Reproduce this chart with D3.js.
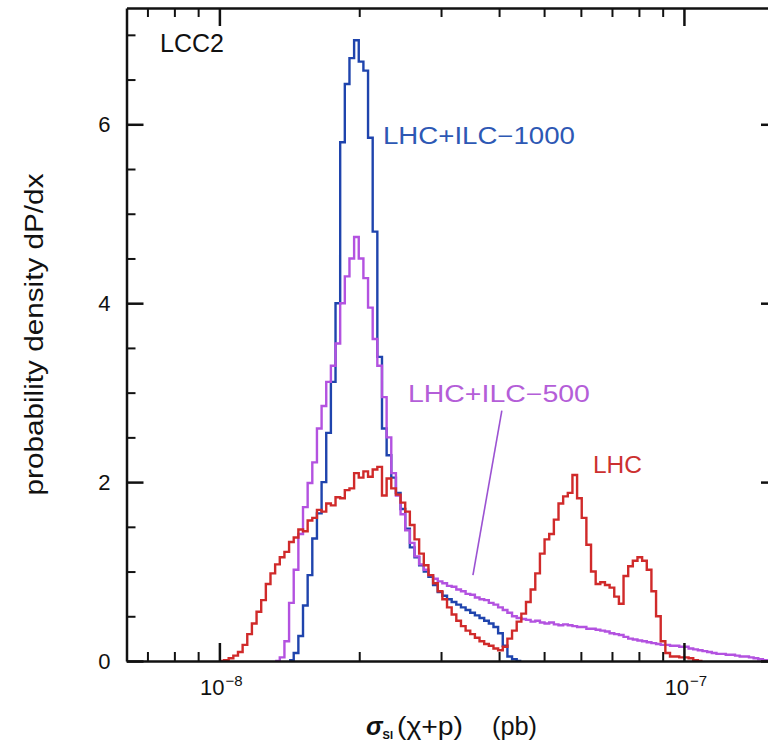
<!DOCTYPE html>
<html>
<head>
<meta charset="utf-8">
<script src="https://cdn.jsdelivr.net/npm/d3@7"></script>
<style>
  body { margin: 0; background: #fff; }
  svg { display: block; font-family: "Liberation Sans", Arial, Helvetica, sans-serif; }
  .frame path, .frame line { stroke: #111; stroke-width: 2.5; }
  .minor line { stroke: #111; stroke-width: 2; }
</style>
</head>
<body>
<svg id="chart" width="768" height="749"></svg>
<script>
//-- histogram bins: width 0.01 in log10(sigma), first edge at 1e-8 --//
var binLog0 = -8, binStep = 0.01;

var lhcStart = 0;
var lhc = [0, 0.01, 0.03, 0.06, 0.1, 0.18, 0.3, 0.42, 0.55, 0.68,
  0.86, 0.98, 1.08, 1.16, 1.22, 1.33, 1.38, 1.47, 1.45, 1.57,
  1.6, 1.69, 1.67, 1.76, 1.74, 1.83, 1.82, 1.91, 1.93, 2.1,
  2.05, 2.12, 2.06, 2.14, 2.17, 1.85, 2.04, 1.93, 1.86, 1.77,
  1.67, 1.52, 1.36, 1.2, 1.07, 0.96, 0.87, 0.78, 0.69, 0.6,
  0.52, 0.45, 0.39, 0.34, 0.3, 0.26, 0.22, 0.19, 0.17, 0.14,
  0.12, 0.16, 0.25, 0.34, 0.44, 0.53, 0.66, 0.8, 0.98, 1.2,
  1.36, 1.42, 1.58, 1.76, 1.84, 1.88, 2.08, 1.82, 1.6, 1.3,
  1.0, 0.86, 0.88, 0.85, 0.82, 0.72, 0.64, 0.95, 1.06, 1.12,
  1.16, 1.12, 1.02, 0.78, 0.5, 0.22, 0.09, 0.05, 0.05, 0.04,
  0.04, 0.03, 0.01, 0];

var ilc500Start = 12;
var ilc500 = [0, 0.04, 0.22, 0.65, 1.02, 1.42, 1.72, 1.99, 2.22, 2.6,
  2.85, 3.12, 3.3, 3.55, 4.0, 4.3, 4.5, 4.74, 4.5, 4.28,
  3.95, 3.6, 3.3, 2.95, 2.5, 2.1, 1.85, 1.64, 1.46, 1.32,
  1.17, 1.08, 1.02, 0.96, 0.92, 0.89, 0.87, 0.84, 0.83, 0.8,
  0.78, 0.75, 0.74, 0.71, 0.69, 0.68, 0.65, 0.63, 0.6, 0.57,
  0.54, 0.5, 0.48, 0.47, 0.46, 0.44, 0.45, 0.43, 0.42, 0.43,
  0.41, 0.4, 0.41, 0.4, 0.39, 0.38, 0.38, 0.36, 0.36, 0.35,
  0.34, 0.33, 0.31, 0.3, 0.29, 0.27, 0.25, 0.24, 0.23, 0.22,
  0.21, 0.2, 0.19, 0.18, 0.18, 0.17, 0.17, 0.16, 0.16, 0.14,
  0.13, 0.12, 0.11, 0.1, 0.09, 0.08, 0.08, 0.07, 0.07, 0.06,
  0.05, 0.05, 0.04, 0.03, 0.02, 0.01, 0.01];

var ilc1000Start = 15;
var ilc1000 = [0.01, 0.09, 0.28, 0.62, 0.96, 1.37, 1.65, 2.0, 2.55, 3.12,
  4.0, 5.8, 6.45, 6.74, 6.94, 6.7, 6.6, 5.85, 4.8, 3.4,
  2.6, 2.3, 2.05, 1.88, 1.7, 1.48, 1.27, 1.16, 1.07, 1.0,
  0.94, 0.85, 0.77, 0.73, 0.69, 0.66, 0.63, 0.6, 0.57, 0.54,
  0.51, 0.48, 0.45, 0.42, 0.38, 0.31, 0.17, 0.05, 0.02, 0];

var yMajor = [0, 2, 4, 6];
var yMinor = [0.5, 1, 1.5, 2.5, 3, 3.5, 4.5, 5, 5.5, 6.5, 7];
var xMajor = [1e-8, 1e-7];
var xMajorExp = ["\u22128", "\u22127"];
var xMinor = [7e-9, 8e-9, 9e-9, 2e-8, 3e-8, 4e-8, 5e-8, 6e-8, 7e-8, 8e-8, 9e-8];

var colors = {lhc: "#d02a2a", ilc500: "#b352e0", ilc1000: "#1f44ad"};
//-- data --//

var svg = d3.select("#chart"),
    plotL = 126.5, plotR = 778, plotT = 8, plotB = 661;

var x = d3.scaleLog().domain([6.31e-9, 1.594e-7]).range([plotL, plotR]);
var y = d3.scaleLinear().domain([0, 7.3]).range([plotB, plotT]);

svg.append("clipPath").attr("id", "plot")
  .append("rect").attr("x", plotL).attr("y", plotT)
  .attr("width", plotR - plotL).attr("height", plotB - plotT);

//-- histograms --//
function steps(start, vals) {
  var pts = vals.map((v, i) => [Math.pow(10, binLog0 + (start + i) * binStep), v]);
  pts.push([Math.pow(10, binLog0 + (start + vals.length) * binStep), vals[vals.length - 1]]);
  return pts;
}

var line = d3.line()
  .x(d => x(d[0]))
  .y(d => y(d[1]))
  .curve(d3.curveStepAfter);

var series = [
  {key: "ilc1000", start: ilc1000Start, vals: ilc1000},
  {key: "ilc500", start: ilc500Start, vals: ilc500},
  {key: "lhc", start: lhcStart, vals: lhc}
];

svg.append("g").attr("clip-path", "url(#plot)")
  .selectAll("path")
  .data(series)
  .enter().append("path")
    .attr("d", d => line(steps(d.start, d.vals)))
    .attr("fill", "none")
    .attr("stroke", d => colors[d.key])
    .attr("stroke-width", 2.4);

//-- axes: ticks point inward on all four sides --//
function noLabels(g) { g.selectAll("text").remove(); }

svg.append("g").attr("class", "frame")
  .attr("transform", `translate(0,${plotB})`)
  .call(d3.axisBottom(x).tickValues(xMajor).tickSizeInner(-18).tickSizeOuter(0))
  .call(noLabels);
svg.append("g").attr("class", "frame")
  .attr("transform", `translate(0,${plotT})`)
  .call(d3.axisTop(x).tickValues(xMajor).tickSizeInner(-18).tickSizeOuter(0))
  .call(noLabels);
svg.append("g").attr("class", "minor")
  .attr("transform", `translate(0,${plotB})`)
  .call(d3.axisBottom(x).tickValues(xMinor).tickSizeInner(-9).tickSizeOuter(0))
  .call(noLabels).select(".domain").remove();
svg.append("g").attr("class", "minor")
  .attr("transform", `translate(0,${plotT})`)
  .call(d3.axisTop(x).tickValues(xMinor).tickSizeInner(-9).tickSizeOuter(0))
  .call(noLabels).select(".domain").remove();

svg.append("g").attr("class", "frame")
  .attr("transform", `translate(${plotL},0)`)
  .call(d3.axisLeft(y).tickValues(yMajor).tickSizeInner(-17).tickSizeOuter(0))
  .call(noLabels);
svg.append("g").attr("class", "frame")
  .attr("transform", `translate(${plotR},0)`)
  .call(d3.axisRight(y).tickValues(yMajor).tickSizeInner(-17).tickSizeOuter(0))
  .call(noLabels);
svg.append("g").attr("class", "minor")
  .attr("transform", `translate(${plotL},0)`)
  .call(d3.axisLeft(y).tickValues(yMinor).tickSizeInner(-9).tickSizeOuter(0))
  .call(noLabels).select(".domain").remove();
svg.append("g").attr("class", "minor")
  .attr("transform", `translate(${plotR},0)`)
  .call(d3.axisRight(y).tickValues(yMinor).tickSizeInner(-9).tickSizeOuter(0))
  .call(noLabels).select(".domain").remove();

//-- tick labels --//
svg.append("g").selectAll("text")
  .data(yMajor)
  .enter().append("text")
    .attr("x", plotL - 16)
    .attr("y", d => y(d) + 8)
    .attr("text-anchor", "end")
    .style("font-size", "22px")
    .attr("fill", "#111")
    .text(d => d);

var xl = svg.append("g").selectAll("text")
  .data(xMajor)
  .enter().append("text")
    .attr("x", d => x(d) + 2)
    .attr("y", plotB + 34)
    .attr("text-anchor", "middle")
    .attr("fill", "#111");
xl.append("tspan").style("font-size", "22px").text("10");
xl.append("tspan").style("font-size", "15px").attr("dx", 1).attr("dy", -9).text((d, i) => xMajorExp[i]);

//-- axis titles --//
svg.append("text")
  .attr("transform", `translate(43,${(plotT + plotB) / 2}) rotate(-90)`)
  .attr("text-anchor", "middle")
  .style("font-size", "25px")
  .attr("textLength", 322).attr("lengthAdjust", "spacingAndGlyphs")
  .attr("fill", "#111")
  .text("probability density dP/dx");

var xt = svg.append("text")
  .attr("x", 366).attr("y", 735)
  .style("font-size", "25px")
  .attr("fill", "#111");
xt.append("tspan").style("font-style", "italic").style("font-weight", "bold").text("\u03c3");
xt.append("tspan").style("font-size", "11px").style("font-weight", "bold").attr("dy", 4).text("SI");
xt.append("tspan").attr("dy", -4).attr("x", 397)
  .attr("textLength", 66).attr("lengthAdjust", "spacingAndGlyphs").text("(\u03c7+p)");
xt.append("tspan").attr("x", 492)
  .attr("textLength", 45).attr("lengthAdjust", "spacingAndGlyphs").text("(pb)");

//-- annotations --//
svg.append("text")
  .attr("x", 160).attr("y", 52)
  .style("font-size", "25px").attr("fill", "#111")
  .text("LCC2");

svg.append("text")
  .attr("x", x(2.25e-8)).attr("y", y(5.78))
  .style("font-size", "23px").attr("fill", "#2d58b4")
  .attr("textLength", 192).attr("lengthAdjust", "spacingAndGlyphs")
  .text("LHC+ILC\u22121000");

svg.append("text")
  .attr("x", x(2.546e-8)).attr("y", y(2.89))
  .style("font-size", "23px").attr("fill", "#b45ed8")
  .attr("textLength", 182).attr("lengthAdjust", "spacingAndGlyphs")
  .text("LHC+ILC\u2212500");

svg.append("line")
  .attr("x1", x(4.055e-8)).attr("y1", y(2.8))
  .attr("x2", x(3.514e-8)).attr("y2", y(0.96))
  .attr("stroke", "#9b52d2").attr("stroke-width", 1.6);

svg.append("text")
  .attr("x", x(6.37e-8)).attr("y", y(2.1))
  .style("font-size", "23px").attr("fill", "#cc3030")
  .attr("textLength", 49).attr("lengthAdjust", "spacingAndGlyphs")
  .text("LHC");
</script>
</body>
</html>
